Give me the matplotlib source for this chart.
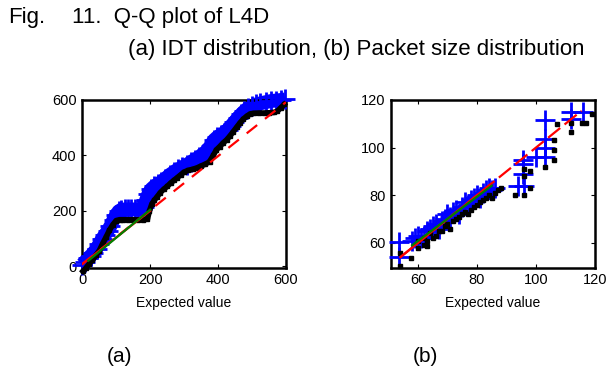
import numpy as np
import matplotlib.pyplot as plt

# (a) IDT distribution - quantile points
idt_blue_x = [0, 8, 16, 25, 33, 42, 50, 58, 66, 75, 83, 92, 100, 107, 115, 125, 135, 145,
              155, 165, 175, 183, 188, 195, 203, 212, 222, 232, 245, 258, 270, 282, 295,
              308, 320, 332, 345, 357, 368, 378, 388, 398, 408, 418, 428, 438, 448, 458,
              468, 478, 488, 500, 512, 525, 540, 555, 570, 585, 598]
idt_blue_y = [6, 16, 28, 38, 48, 64, 80, 98, 112, 128, 145, 168, 185, 198, 204, 205, 205, 205,
              205, 205, 206, 215, 238, 262, 278, 288, 296, 304, 316, 330, 340, 350, 358,
              366, 376, 385, 395, 405, 418, 435, 455, 466, 474, 482, 492, 506, 520, 534,
              548, 560, 570, 578, 584, 588, 592, 596, 598, 600, 602]
idt_black_x = [2, 10, 20, 30, 40, 50, 60, 70, 80, 90, 100, 110, 120, 135, 150, 165, 180, 192,
               198, 205, 212, 220, 230, 240, 250, 260, 270, 280, 290, 300, 312, 325, 338,
               350, 362, 375, 386, 395, 405, 415, 425, 435, 445, 455, 465, 475, 485, 495,
               505, 520, 535, 550, 565, 575, 585, 595]
idt_black_y = [-18, -8, 8, 22, 40, 56, 82, 105, 130, 150, 165, 168, 168, 168, 168, 168, 168, 170,
               200, 225, 238, 250, 266, 278, 288, 300, 310, 320, 330, 340, 346, 350, 355,
               362, 368, 378, 400, 420, 432, 445, 456, 470, 486, 502, 518, 532, 542, 550,
               552, 553, 553, 554, 555, 560, 572, 584]
idt_ref_x = [0, 600]
idt_ref_y = [8, 592]
idt_fit_x = [0, 200]
idt_fit_y = [8, 200]
idt_quart_x = [18, 200]
idt_quart_y = [20, 204]

# (b) Packet size distribution
pkt_blue_x = [53.5, 53.5, 58, 59, 60, 61, 62, 63, 64, 65, 66, 67, 68, 69, 70, 71, 72, 73, 74,
              75, 76, 77, 78, 79, 80, 81, 82, 83, 84, 85, 86, 94, 96, 95.5, 95.5, 95.5,
              100, 103, 103, 103, 103, 112, 116, 112]
pkt_blue_y = [60.5, 54, 61, 62, 63, 62, 63, 65, 66, 67, 68, 66, 69, 70, 72, 71, 73, 74, 72,
              75, 77, 76, 78, 79, 80, 79, 81, 82, 83, 82, 83, 84, 84, 89, 93, 95,
              96, 96, 100, 103.5, 111.5, 115, 115, 112]
pkt_black_x = [54, 54, 57.5, 60, 60, 62, 63, 62, 63, 64, 65, 66, 67, 68, 69, 70, 71, 72, 73,
               74, 75, 76, 77, 78, 79, 80, 81, 82, 83, 84, 85, 86, 87, 88, 93, 96, 98, 98,
               96, 96, 103, 106, 106, 106, 107, 112, 112, 115.5, 117, 119]
pkt_black_y = [55.8, 50.3, 53.8, 60.7, 58, 59, 58.5, 62, 61, 64, 62, 63, 65, 65, 67, 68, 66,
               69, 70, 71, 72, 73, 72, 74, 75, 76, 77, 78, 79, 80, 79, 81, 82, 83, 80, 80,
               83, 90, 91, 88, 92, 95, 99, 103, 110, 106.5, 110.5, 110.5, 110.5, 114]
pkt_ref_x = [54, 115.5]
pkt_ref_y = [54, 115.5]
pkt_fit_x = [54, 85]
pkt_fit_y = [54, 85]
pkt_quart_x = [58, 85]
pkt_quart_y = [59, 84]

plt.rcParams['font.family'] = ['Liberation Sans', 'DejaVu Sans']

fig = plt.figure(figsize=(6.07, 3.69), dpi=100)


def qq_panel(ax, bx, by, kx, ky, rx, ry, fx, fy, qx, qy, dashes, band):
    if band:
        ax.plot(bx, by, color='#0000ff', lw=10, solid_capstyle='butt', zorder=2,
                clip_on=False)
    ax.plot(bx, by, ls='none', marker='+', ms=15, mew=2, color='#0000ff', zorder=3,
            clip_on=False)
    if band:
        ax.plot(kx, ky, color='black', lw=4, zorder=4, clip_on=False)
    ax.plot(kx, ky, ls='none', marker='s', ms=2.8, color='black', zorder=4, clip_on=False)
    ax.plot(rx, ry, color='#ff0000', lw=1.6, dashes=dashes, zorder=5)
    ax.plot(fx, fy, color='#ff0000', lw=1.6, zorder=5)
    ax.plot(qx, qy, color='#008000', lw=1.6, zorder=6)
    ax.tick_params(direction='in', length=3, width=0.8, top=True, right=True,
                   labelsize=10.5, pad=4)
    for s in ax.spines.values():
        s.set_linewidth(1.8)
    ax.set_xlabel('Expected value', fontsize=10, labelpad=6)


ax1 = fig.add_axes([0.135, 0.274, 0.336, 0.455])
qq_panel(ax1, idt_blue_x, idt_blue_y, idt_black_x, idt_black_y, idt_ref_x, idt_ref_y,
         idt_fit_x, idt_fit_y, idt_quart_x, idt_quart_y, (6, 4.5), True)
ax1.set_xlim(-1, 600)
ax1.set_ylim(-6, 600)
ax1.set_xticks([0, 200, 400, 600])
ax1.set_yticks([0, 200, 400, 600])

ax2 = fig.add_axes([0.644, 0.274, 0.336, 0.455])
qq_panel(ax2, pkt_blue_x, pkt_blue_y, pkt_black_x, pkt_black_y, pkt_ref_x, pkt_ref_y,
         pkt_fit_x, pkt_fit_y, pkt_quart_x, pkt_quart_y, (7, 2.5), False)
ax2.set_xlim(50.8, 120)
ax2.set_ylim(49.5, 120)
ax2.set_xticks([60, 80, 100, 120])
ax2.set_yticks([60, 80, 100, 120])

title_font = ['Liberation Sans Narrow', 'Liberation Sans', 'DejaVu Sans']
fig.text(8 / 607, 1 - 18 / 369, 'Fig.', fontsize=16, family=title_font, va='center')
fig.text(72 / 607, 1 - 18 / 369, '11.  Q-Q plot of L4D', fontsize=16, family=title_font,
         va='center')
fig.text(128 / 607, 1 - 50 / 369, '(a) IDT distribution, (b) Packet size distribution',
         fontsize=16, family=title_font, va='center')
fig.text(120 / 607, 1 - 357 / 369, '(a)', fontsize=15, family=title_font, ha='center',
         va='center')
fig.text(425 / 607, 1 - 357 / 369, '(b)', fontsize=15, family=title_font, ha='center',
         va='center')

fig.savefig('out.png', dpi=100)
